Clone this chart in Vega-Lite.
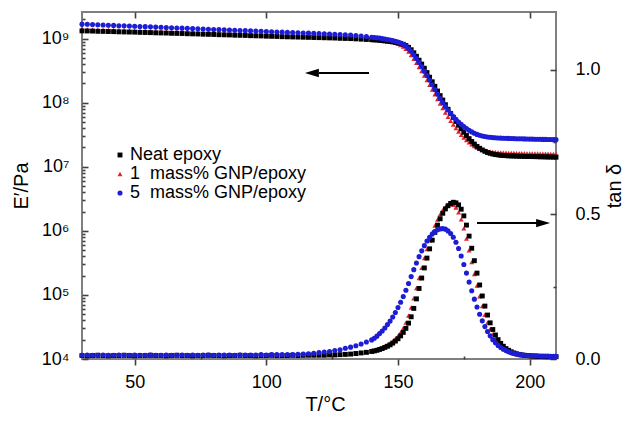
{
"$schema":"https://vega.github.io/schema/vega-lite/v6.json",
"width":474,"height":347,
"autosize":{"type":"none"},
"padding":{"left":82,"top":12,"right":68,"bottom":66},
"background":"white",
"config":{"font":"Liberation Sans","view":{"stroke":"#7f7f7f","strokeWidth":2},
"axis":{"grid":false,"domain":false,"ticks":true,"zindex":1,"labelColor":"#000","tickColor":"#404040","tickWidth":1.6,"tickOpacity":1,"labelFont":"Liberation Sans","titleFont":"Liberation Sans","titleFontWeight":"normal","labelFontSize":18,"titleFontSize":20,"titleColor":"#000","labelFlush":false,"labelOverlap":false,"labelBound":false}},
"data":{"values":[
{"T":30,"s":"g1","E":1.40e9,"t":0.013},{"T":32,"s":"g1","E":1.395e9,"t":0.012},{"T":34,"s":"g1","E":1.39e9,"t":0.013},{"T":36,"s":"g1","E":1.38e9,"t":0.012},{"T":38,"s":"g1","E":1.375e9,"t":0.013},{"T":40,"s":"g1","E":1.37e9,"t":0.013},{"T":42,"s":"g1","E":1.36e9,"t":0.012},{"T":44,"s":"g1","E":1.355e9,"t":0.013},{"T":46,"s":"g1","E":1.345e9,"t":0.012},{"T":48,"s":"g1","E":1.34e9,"t":0.013},{"T":50,"s":"g1","E":1.33e9,"t":0.013},{"T":52,"s":"g1","E":1.325e9,"t":0.012},{"T":54,"s":"g1","E":1.32e9,"t":0.013},{"T":56,"s":"g1","E":1.31e9,"t":0.012},{"T":58,"s":"g1","E":1.305e9,"t":0.013},{"T":60,"s":"g1","E":1.295e9,"t":0.013},{"T":62,"s":"g1","E":1.29e9,"t":0.012},{"T":64,"s":"g1","E":1.28e9,"t":0.013},{"T":66,"s":"g1","E":1.275e9,"t":0.012},{"T":68,"s":"g1","E":1.27e9,"t":0.013},{"T":70,"s":"g1","E":1.26e9,"t":0.013},{"T":72,"s":"g1","E":1.255e9,"t":0.012},{"T":74,"s":"g1","E":1.245e9,"t":0.013},{"T":76,"s":"g1","E":1.24e9,"t":0.013},{"T":78,"s":"g1","E":1.235e9,"t":0.012},{"T":80,"s":"g1","E":1.225e9,"t":0.013},{"T":82,"s":"g1","E":1.22e9,"t":0.013},{"T":84,"s":"g1","E":1.21e9,"t":0.012},{"T":86,"s":"g1","E":1.205e9,"t":0.013},{"T":88,"s":"g1","E":1.2e9,"t":0.013},{"T":90,"s":"g1","E":1.19e9,"t":0.012},{"T":92,"s":"g1","E":1.185e9,"t":0.013},{"T":94,"s":"g1","E":1.18e9,"t":0.013},{"T":96,"s":"g1","E":1.17e9,"t":0.012},{"T":98,"s":"g1","E":1.165e9,"t":0.013},{"T":100,"s":"g1","E":1.16e9,"t":0.013},{"T":102,"s":"g1","E":1.15e9,"t":0.013},{"T":104,"s":"g1","E":1.145e9,"t":0.012},{"T":106,"s":"g1","E":1.14e9,"t":0.013},{"T":108,"s":"g1","E":1.13e9,"t":0.013},{"T":110,"s":"g1","E":1.125e9,"t":0.013},{"T":112,"s":"g1","E":1.12e9,"t":0.013},{"T":114,"s":"g1","E":1.11e9,"t":0.013},{"T":116,"s":"g1","E":1.105e9,"t":0.014},{"T":118,"s":"g1","E":1.1e9,"t":0.014},{"T":120,"s":"g1","E":1.09e9,"t":0.014},{"T":122,"s":"g1","E":1.085e9,"t":0.014},{"T":124,"s":"g1","E":1.075e9,"t":0.015},{"T":126,"s":"g1","E":1.07e9,"t":0.016},{"T":128,"s":"g1","E":1.06e9,"t":0.016},{"T":130,"s":"g1","E":1.05e9,"t":0.017},{"T":132,"s":"g1","E":1.04e9,"t":0.018},{"T":134,"s":"g1","E":1.03e9,"t":0.02},{"T":136,"s":"g1","E":1.02e9,"t":0.022},{"T":138,"s":"g1","E":1.005e9,"t":0.025},
{"T":140,"s":"g1","E":9.9e8,"t":0.028},{"T":141,"s":"g1","E":9.8e8,"t":0.03},{"T":142,"s":"g1","E":9.7e8,"t":0.033},{"T":143,"s":"g1","E":9.6e8,"t":0.036},{"T":144,"s":"g1","E":9.5e8,"t":0.04},{"T":145,"s":"g1","E":9.35e8,"t":0.044},{"T":146,"s":"g1","E":9.2e8,"t":0.049},{"T":147,"s":"g1","E":9.05e8,"t":0.055},{"T":148,"s":"g1","E":8.85e8,"t":0.062},{"T":149,"s":"g1","E":8.6e8,"t":0.07},{"T":150,"s":"g1","E":8.3e8,"t":0.08},{"T":151,"s":"g1","E":7.95e8,"t":0.092},{"T":152,"s":"g1","E":7.5e8,"t":0.107},{"T":153,"s":"g1","E":6.9e8,"t":0.126},{"T":154,"s":"g1","E":6.25e8,"t":0.15},{"T":155,"s":"g1","E":5.55e8,"t":0.178},{"T":156,"s":"g1","E":4.85e8,"t":0.21},{"T":157,"s":"g1","E":4.2e8,"t":0.245},{"T":158,"s":"g1","E":3.6e8,"t":0.28},{"T":159,"s":"g1","E":3.1e8,"t":0.315},{"T":160,"s":"g1","E":2.65e8,"t":0.349},{"T":161,"s":"g1","E":2.25e8,"t":0.38},{"T":162,"s":"g1","E":1.9e8,"t":0.41},{"T":163,"s":"g1","E":1.6e8,"t":0.437},{"T":164,"s":"g1","E":1.35e8,"t":0.461},{"T":165,"s":"g1","E":1.14e8,"t":0.482},{"T":166,"s":"g1","E":9.7e7,"t":0.5},{"T":167,"s":"g1","E":8.2e7,"t":0.515},{"T":168,"s":"g1","E":7.0e7,"t":0.526},{"T":169,"s":"g1","E":6.0e7,"t":0.533},{"T":170,"s":"g1","E":5.2e7,"t":0.536},{"T":171,"s":"g1","E":4.55e7,"t":0.533},{"T":172,"s":"g1","E":4.0e7,"t":0.524},{"T":173,"s":"g1","E":3.55e7,"t":0.507},{"T":174,"s":"g1","E":3.15e7,"t":0.483},{"T":175,"s":"g1","E":2.85e7,"t":0.452},{"T":176,"s":"g1","E":2.6e7,"t":0.416},{"T":177,"s":"g1","E":2.4e7,"t":0.376},{"T":178,"s":"g1","E":2.24e7,"t":0.335},{"T":179,"s":"g1","E":2.1e7,"t":0.294},{"T":180,"s":"g1","E":1.99e7,"t":0.254},{"T":181,"s":"g1","E":1.91e7,"t":0.217},{"T":182,"s":"g1","E":1.85e7,"t":0.183},{"T":183,"s":"g1","E":1.8e7,"t":0.153},{"T":184,"s":"g1","E":1.76e7,"t":0.126},{"T":185,"s":"g1","E":1.73e7,"t":0.104},{"T":186,"s":"g1","E":1.71e7,"t":0.085},{"T":187,"s":"g1","E":1.69e7,"t":0.069},{"T":188,"s":"g1","E":1.68e7,"t":0.057},{"T":189,"s":"g1","E":1.67e7,"t":0.046},{"T":190,"s":"g1","E":1.66e7,"t":0.038},{"T":191,"s":"g1","E":1.655e7,"t":0.032},{"T":192,"s":"g1","E":1.65e7,"t":0.027},{"T":193,"s":"g1","E":1.645e7,"t":0.023},{"T":194,"s":"g1","E":1.64e7,"t":0.02},{"T":195,"s":"g1","E":1.635e7,"t":0.017},{"T":196,"s":"g1","E":1.63e7,"t":0.015},{"T":197,"s":"g1","E":1.63e7,"t":0.014},{"T":198,"s":"g1","E":1.625e7,"t":0.013},{"T":199,"s":"g1","E":1.62e7,"t":0.012},{"T":200,"s":"g1","E":1.62e7,"t":0.011},{"T":201,"s":"g1","E":1.615e7,"t":0.01},{"T":202,"s":"g1","E":1.61e7,"t":0.01},{"T":203,"s":"g1","E":1.61e7,"t":0.009},{"T":204,"s":"g1","E":1.605e7,"t":0.009},{"T":205,"s":"g1","E":1.6e7,"t":0.009},{"T":206,"s":"g1","E":1.6e7,"t":0.009},{"T":207,"s":"g1","E":1.595e7,"t":0.008},{"T":208,"s":"g1","E":1.59e7,"t":0.008},{"T":209,"s":"g1","E":1.59e7,"t":0.008},{"T":210,"s":"g1","E":1.585e7,"t":0.008},
{"T":30,"s":"n","E":1.32e9,"t":0.012},{"T":32,"s":"n","E":1.315e9,"t":0.011},{"T":34,"s":"n","E":1.31e9,"t":0.012},{"T":36,"s":"n","E":1.3e9,"t":0.013},{"T":38,"s":"n","E":1.295e9,"t":0.012},{"T":40,"s":"n","E":1.29e9,"t":0.011},{"T":42,"s":"n","E":1.285e9,"t":0.012},{"T":44,"s":"n","E":1.275e9,"t":0.012},{"T":46,"s":"n","E":1.27e9,"t":0.013},{"T":48,"s":"n","E":1.265e9,"t":0.012},{"T":50,"s":"n","E":1.26e9,"t":0.011},{"T":52,"s":"n","E":1.25e9,"t":0.012},{"T":54,"s":"n","E":1.245e9,"t":0.012},{"T":56,"s":"n","E":1.24e9,"t":0.013},{"T":58,"s":"n","E":1.23e9,"t":0.012},{"T":60,"s":"n","E":1.225e9,"t":0.012},{"T":62,"s":"n","E":1.22e9,"t":0.011},{"T":64,"s":"n","E":1.21e9,"t":0.012},{"T":66,"s":"n","E":1.205e9,"t":0.013},{"T":68,"s":"n","E":1.2e9,"t":0.012},{"T":70,"s":"n","E":1.19e9,"t":0.012},{"T":72,"s":"n","E":1.185e9,"t":0.011},{"T":74,"s":"n","E":1.18e9,"t":0.012},{"T":76,"s":"n","E":1.17e9,"t":0.012},{"T":78,"s":"n","E":1.165e9,"t":0.013},{"T":80,"s":"n","E":1.16e9,"t":0.012},{"T":82,"s":"n","E":1.15e9,"t":0.012},{"T":84,"s":"n","E":1.145e9,"t":0.011},{"T":86,"s":"n","E":1.14e9,"t":0.012},{"T":88,"s":"n","E":1.13e9,"t":0.012},{"T":90,"s":"n","E":1.125e9,"t":0.013},{"T":92,"s":"n","E":1.12e9,"t":0.012},{"T":94,"s":"n","E":1.11e9,"t":0.012},{"T":96,"s":"n","E":1.105e9,"t":0.011},{"T":98,"s":"n","E":1.1e9,"t":0.012},{"T":100,"s":"n","E":1.09e9,"t":0.012},{"T":102,"s":"n","E":1.085e9,"t":0.013},{"T":104,"s":"n","E":1.08e9,"t":0.012},{"T":106,"s":"n","E":1.07e9,"t":0.012},{"T":108,"s":"n","E":1.065e9,"t":0.012},{"T":110,"s":"n","E":1.06e9,"t":0.013},{"T":112,"s":"n","E":1.055e9,"t":0.012},{"T":114,"s":"n","E":1.05e9,"t":0.013},{"T":116,"s":"n","E":1.045e9,"t":0.013},{"T":118,"s":"n","E":1.04e9,"t":0.013},{"T":120,"s":"n","E":1.035e9,"t":0.013},{"T":122,"s":"n","E":1.03e9,"t":0.013},{"T":124,"s":"n","E":1.025e9,"t":0.014},{"T":126,"s":"n","E":1.02e9,"t":0.014},{"T":128,"s":"n","E":1.01e9,"t":0.015},{"T":130,"s":"n","E":1.005e9,"t":0.016},{"T":132,"s":"n","E":1.0e9,"t":0.017},{"T":134,"s":"n","E":9.9e8,"t":0.019},{"T":136,"s":"n","E":9.8e8,"t":0.021},{"T":138,"s":"n","E":9.7e8,"t":0.023},
{"T":140,"s":"n","E":9.6e8,"t":0.026},{"T":141,"s":"n","E":9.55e8,"t":0.028},{"T":142,"s":"n","E":9.5e8,"t":0.03},{"T":143,"s":"n","E":9.4e8,"t":0.033},{"T":144,"s":"n","E":9.3e8,"t":0.036},{"T":145,"s":"n","E":9.2e8,"t":0.04},{"T":146,"s":"n","E":9.1e8,"t":0.044},{"T":147,"s":"n","E":9.0e8,"t":0.049},{"T":148,"s":"n","E":8.9e8,"t":0.055},{"T":149,"s":"n","E":8.75e8,"t":0.062},{"T":150,"s":"n","E":8.6e8,"t":0.07},{"T":151,"s":"n","E":8.4e8,"t":0.08},{"T":152,"s":"n","E":8.15e8,"t":0.092},{"T":153,"s":"n","E":7.8e8,"t":0.106},{"T":154,"s":"n","E":7.3e8,"t":0.124},{"T":155,"s":"n","E":6.7e8,"t":0.146},{"T":156,"s":"n","E":6.0e8,"t":0.175},{"T":157,"s":"n","E":5.3e8,"t":0.208},{"T":158,"s":"n","E":4.6e8,"t":0.244},{"T":159,"s":"n","E":4.0e8,"t":0.28},{"T":160,"s":"n","E":3.45e8,"t":0.315},{"T":161,"s":"n","E":2.95e8,"t":0.349},{"T":162,"s":"n","E":2.5e8,"t":0.381},{"T":163,"s":"n","E":2.12e8,"t":0.411},{"T":164,"s":"n","E":1.8e8,"t":0.438},{"T":165,"s":"n","E":1.52e8,"t":0.463},{"T":166,"s":"n","E":1.29e8,"t":0.485},{"T":167,"s":"n","E":1.1e8,"t":0.504},{"T":168,"s":"n","E":9.3e7,"t":0.519},{"T":169,"s":"n","E":7.9e7,"t":0.53},{"T":170,"s":"n","E":6.8e7,"t":0.538},{"T":171,"s":"n","E":5.9e7,"t":0.542},{"T":172,"s":"n","E":5.1e7,"t":0.54},{"T":173,"s":"n","E":4.45e7,"t":0.533},{"T":174,"s":"n","E":3.9e7,"t":0.518},{"T":175,"s":"n","E":3.45e7,"t":0.495},{"T":176,"s":"n","E":3.07e7,"t":0.463},{"T":177,"s":"n","E":2.75e7,"t":0.425},{"T":178,"s":"n","E":2.48e7,"t":0.383},{"T":179,"s":"n","E":2.26e7,"t":0.34},{"T":180,"s":"n","E":2.08e7,"t":0.297},{"T":181,"s":"n","E":1.94e7,"t":0.256},{"T":182,"s":"n","E":1.83e7,"t":0.218},{"T":183,"s":"n","E":1.74e7,"t":0.183},{"T":184,"s":"n","E":1.67e7,"t":0.152},{"T":185,"s":"n","E":1.62e7,"t":0.125},{"T":186,"s":"n","E":1.58e7,"t":0.102},{"T":187,"s":"n","E":1.55e7,"t":0.083},{"T":188,"s":"n","E":1.53e7,"t":0.067},{"T":189,"s":"n","E":1.51e7,"t":0.054},{"T":190,"s":"n","E":1.5e7,"t":0.044},{"T":191,"s":"n","E":1.49e7,"t":0.036},{"T":192,"s":"n","E":1.48e7,"t":0.03},{"T":193,"s":"n","E":1.475e7,"t":0.025},{"T":194,"s":"n","E":1.47e7,"t":0.021},{"T":195,"s":"n","E":1.465e7,"t":0.018},{"T":196,"s":"n","E":1.46e7,"t":0.016},{"T":197,"s":"n","E":1.455e7,"t":0.014},{"T":198,"s":"n","E":1.45e7,"t":0.013},{"T":199,"s":"n","E":1.45e7,"t":0.012},{"T":200,"s":"n","E":1.445e7,"t":0.011},{"T":201,"s":"n","E":1.44e7,"t":0.01},{"T":202,"s":"n","E":1.44e7,"t":0.01},{"T":203,"s":"n","E":1.435e7,"t":0.009},{"T":204,"s":"n","E":1.43e7,"t":0.009},{"T":205,"s":"n","E":1.43e7,"t":0.009},{"T":206,"s":"n","E":1.425e7,"t":0.008},{"T":207,"s":"n","E":1.42e7,"t":0.008},{"T":208,"s":"n","E":1.42e7,"t":0.008},{"T":209,"s":"n","E":1.415e7,"t":0.008},{"T":210,"s":"n","E":1.41e7,"t":0.008},
{"T":30,"s":"g5","E":1.68e9,"t":0.013},{"T":32,"s":"g5","E":1.67e9,"t":0.014},{"T":34,"s":"g5","E":1.655e9,"t":0.013},{"T":36,"s":"g5","E":1.64e9,"t":0.013},{"T":38,"s":"g5","E":1.63e9,"t":0.014},{"T":40,"s":"g5","E":1.615e9,"t":0.013},{"T":42,"s":"g5","E":1.605e9,"t":0.013},{"T":44,"s":"g5","E":1.59e9,"t":0.014},{"T":46,"s":"g5","E":1.58e9,"t":0.013},{"T":48,"s":"g5","E":1.57e9,"t":0.013},{"T":50,"s":"g5","E":1.555e9,"t":0.014},{"T":52,"s":"g5","E":1.545e9,"t":0.013},{"T":54,"s":"g5","E":1.535e9,"t":0.013},{"T":56,"s":"g5","E":1.525e9,"t":0.014},{"T":58,"s":"g5","E":1.51e9,"t":0.013},{"T":60,"s":"g5","E":1.5e9,"t":0.013},{"T":62,"s":"g5","E":1.49e9,"t":0.014},{"T":64,"s":"g5","E":1.48e9,"t":0.013},{"T":66,"s":"g5","E":1.465e9,"t":0.013},{"T":68,"s":"g5","E":1.455e9,"t":0.014},{"T":70,"s":"g5","E":1.445e9,"t":0.013},{"T":72,"s":"g5","E":1.435e9,"t":0.014},{"T":74,"s":"g5","E":1.425e9,"t":0.013},{"T":76,"s":"g5","E":1.415e9,"t":0.014},{"T":78,"s":"g5","E":1.4e9,"t":0.014},{"T":80,"s":"g5","E":1.39e9,"t":0.013},{"T":82,"s":"g5","E":1.38e9,"t":0.014},{"T":84,"s":"g5","E":1.37e9,"t":0.014},{"T":86,"s":"g5","E":1.36e9,"t":0.014},{"T":88,"s":"g5","E":1.35e9,"t":0.013},{"T":90,"s":"g5","E":1.34e9,"t":0.014},{"T":92,"s":"g5","E":1.33e9,"t":0.014},{"T":94,"s":"g5","E":1.32e9,"t":0.014},{"T":96,"s":"g5","E":1.31e9,"t":0.014},{"T":98,"s":"g5","E":1.3e9,"t":0.015},{"T":100,"s":"g5","E":1.29e9,"t":0.014},{"T":102,"s":"g5","E":1.28e9,"t":0.015},{"T":104,"s":"g5","E":1.27e9,"t":0.015},{"T":106,"s":"g5","E":1.26e9,"t":0.015},{"T":108,"s":"g5","E":1.25e9,"t":0.015},{"T":110,"s":"g5","E":1.245e9,"t":0.015},{"T":112,"s":"g5","E":1.235e9,"t":0.016},{"T":114,"s":"g5","E":1.225e9,"t":0.017},{"T":116,"s":"g5","E":1.215e9,"t":0.018},{"T":118,"s":"g5","E":1.205e9,"t":0.02},{"T":120,"s":"g5","E":1.195e9,"t":0.022},{"T":122,"s":"g5","E":1.19e9,"t":0.024},{"T":124,"s":"g5","E":1.18e9,"t":0.026},{"T":126,"s":"g5","E":1.17e9,"t":0.029},{"T":128,"s":"g5","E":1.16e9,"t":0.032},{"T":130,"s":"g5","E":1.15e9,"t":0.037},{"T":132,"s":"g5","E":1.135e9,"t":0.041},{"T":134,"s":"g5","E":1.12e9,"t":0.046},{"T":136,"s":"g5","E":1.1e9,"t":0.052},{"T":138,"s":"g5","E":1.08e9,"t":0.059},
{"T":140,"s":"g5","E":1.05e9,"t":0.066},{"T":141,"s":"g5","E":1.04e9,"t":0.072},{"T":142,"s":"g5","E":1.03e9,"t":0.079},{"T":143,"s":"g5","E":1.02e9,"t":0.088},{"T":144,"s":"g5","E":1.0e9,"t":0.097},{"T":145,"s":"g5","E":9.85e8,"t":0.107},{"T":146,"s":"g5","E":9.7e8,"t":0.119},{"T":147,"s":"g5","E":9.5e8,"t":0.131},{"T":148,"s":"g5","E":9.3e8,"t":0.145},{"T":149,"s":"g5","E":9.1e8,"t":0.161},{"T":150,"s":"g5","E":8.85e8,"t":0.178},{"T":151,"s":"g5","E":8.55e8,"t":0.196},{"T":152,"s":"g5","E":8.15e8,"t":0.216},{"T":153,"s":"g5","E":7.65e8,"t":0.238},{"T":154,"s":"g5","E":7.0e8,"t":0.261},{"T":155,"s":"g5","E":6.35e8,"t":0.285},{"T":156,"s":"g5","E":5.6e8,"t":0.309},{"T":157,"s":"g5","E":4.9e8,"t":0.332},{"T":158,"s":"g5","E":4.25e8,"t":0.354},{"T":159,"s":"g5","E":3.65e8,"t":0.374},{"T":160,"s":"g5","E":3.1e8,"t":0.392},{"T":161,"s":"g5","E":2.65e8,"t":0.408},{"T":162,"s":"g5","E":2.25e8,"t":0.421},{"T":163,"s":"g5","E":1.9e8,"t":0.432},{"T":164,"s":"g5","E":1.6e8,"t":0.441},{"T":165,"s":"g5","E":1.36e8,"t":0.447},{"T":166,"s":"g5","E":1.16e8,"t":0.45},{"T":167,"s":"g5","E":1.0e8,"t":0.451},{"T":168,"s":"g5","E":8.7e7,"t":0.449},{"T":169,"s":"g5","E":7.7e7,"t":0.443},{"T":170,"s":"g5","E":6.85e7,"t":0.434},{"T":171,"s":"g5","E":6.1e7,"t":0.421},{"T":172,"s":"g5","E":5.5e7,"t":0.404},{"T":173,"s":"g5","E":5.0e7,"t":0.382},{"T":174,"s":"g5","E":4.6e7,"t":0.356},{"T":175,"s":"g5","E":4.25e7,"t":0.327},{"T":176,"s":"g5","E":3.95e7,"t":0.297},{"T":177,"s":"g5","E":3.7e7,"t":0.266},{"T":178,"s":"g5","E":3.5e7,"t":0.236},{"T":179,"s":"g5","E":3.33e7,"t":0.207},{"T":180,"s":"g5","E":3.2e7,"t":0.18},{"T":181,"s":"g5","E":3.1e7,"t":0.155},{"T":182,"s":"g5","E":3.02e7,"t":0.132},{"T":183,"s":"g5","E":2.96e7,"t":0.112},{"T":184,"s":"g5","E":2.92e7,"t":0.095},{"T":185,"s":"g5","E":2.88e7,"t":0.08},{"T":186,"s":"g5","E":2.85e7,"t":0.067},{"T":187,"s":"g5","E":2.83e7,"t":0.056},{"T":188,"s":"g5","E":2.81e7,"t":0.047},{"T":189,"s":"g5","E":2.8e7,"t":0.04},{"T":190,"s":"g5","E":2.79e7,"t":0.034},{"T":191,"s":"g5","E":2.78e7,"t":0.029},{"T":192,"s":"g5","E":2.77e7,"t":0.025},{"T":193,"s":"g5","E":2.76e7,"t":0.022},{"T":194,"s":"g5","E":2.75e7,"t":0.019},{"T":195,"s":"g5","E":2.74e7,"t":0.017},{"T":196,"s":"g5","E":2.73e7,"t":0.015},{"T":197,"s":"g5","E":2.73e7,"t":0.014},{"T":198,"s":"g5","E":2.72e7,"t":0.013},{"T":199,"s":"g5","E":2.71e7,"t":0.012},{"T":200,"s":"g5","E":2.7e7,"t":0.012},{"T":201,"s":"g5","E":2.7e7,"t":0.011},{"T":202,"s":"g5","E":2.69e7,"t":0.011},{"T":203,"s":"g5","E":2.68e7,"t":0.011},{"T":204,"s":"g5","E":2.68e7,"t":0.01},{"T":205,"s":"g5","E":2.67e7,"t":0.01},{"T":206,"s":"g5","E":2.67e7,"t":0.01},{"T":207,"s":"g5","E":2.66e7,"t":0.01},{"T":208,"s":"g5","E":2.66e7,"t":0.009},{"T":209,"s":"g5","E":2.65e7,"t":0.009},{"T":210,"s":"g5","E":2.65e7,"t":0.009}
]},
"resolve":{"scale":{"y":"independent"},"axis":{"x":"independent","y":"independent"}},
"layer":[
{"mark":{"type":"point","filled":true,"opacity":1,"strokeWidth":0},
"encoding":{
"x":{"field":"T","type":"quantitative","scale":{"domain":[30,210],"nice":false,"zero":false},"axis":{"orient":"bottom","values":[50,100,150,200],"ticks":true,"tickSize":6,"labelPadding":8,"title":"T/°C","titlePadding":3,"titleX":243}},
"y":{"field":"E","type":"quantitative","scale":{"type":"log","domain":[1e4,2.6e9],"nice":false},"axis":{"orient":"left","values":[1e4,1e5,1e6,1e7,1e8,1e9],"labelExpr":"'10' + ['⁰','¹','²','³','⁴','⁵','⁶','⁷','⁸','⁹'][round(log(datum.value)/LN10)]","ticks":true,"offset":-6,"tickSize":6,"labelPadding":13,"title":"E′/Pa","titlePadding":10}},
"color":{"field":"s","type":"nominal","scale":{"domain":["n","g1","g5"],"range":["#000000","#e2232b","#1d1dd6"]},"legend":{"orient":"none","legendX":29,"legendY":134,"title":null,"labelFontSize":18,"labelFont":"Liberation Sans","labelColor":"#000","symbolSize":30,"rowPadding":1,"labelOffset":1,"padding":0,"labelLimit":400,"labelExpr":"datum.value == 'n' ? 'Neat epoxy' : datum.value == 'g1' ? '1\u00a0 mass% GNP/epoxy' : '5\u00a0 mass% GNP/epoxy'"}},
"shape":{"field":"s","type":"nominal","scale":{"domain":["n","g1","g5"],"range":["square","triangle-up","circle"]},"legend":{"orient":"none","legendX":29,"legendY":134,"title":null,"labelFontSize":18,"labelFont":"Liberation Sans","labelColor":"#000","symbolSize":30,"rowPadding":1,"labelOffset":1,"padding":0,"labelLimit":400,"labelExpr":"datum.value == 'n' ? 'Neat epoxy' : datum.value == 'g1' ? '1\u00a0 mass% GNP/epoxy' : '5\u00a0 mass% GNP/epoxy'"}},
"size":{"field":"s","type":"nominal","scale":{"domain":["n","g1","g5"],"range":[24,26,18]},"legend":null}
}},
{"mark":{"type":"point","filled":true,"opacity":1,"strokeWidth":0},
"encoding":{
"x":{"field":"T","type":"quantitative","scale":{"domain":[30,210],"nice":false,"zero":false},"axis":{"orient":"top","values":[50,100,150,200],"labels":false,"ticks":true,"offset":-6,"tickSize":6,"title":null}},
"y":{"field":"t","type":"quantitative","scale":{"domain":[0,1.2],"nice":false,"zero":false},"axis":{"orient":"right","values":[0,0.5,1],"format":".1f","ticks":true,"offset":-6,"tickSize":6,"labelPadding":19,"title":"tan δ","titleAngle":270,"titlePadding":24}},
"color":{"field":"s","type":"nominal","scale":{"domain":["n","g1","g5"],"range":["#000000","#e2232b","#1d1dd6"]},"legend":null},
"shape":{"field":"s","type":"nominal","scale":{"domain":["n","g1","g5"],"range":["square","triangle-up","circle"]},"legend":null},
"size":{"field":"s","type":"nominal","scale":{"domain":["n","g1","g5"],"range":[24,26,18]},"legend":null}
}},
{"mark":{"type":"point","opacity":0},
"encoding":{
"x":{"field":"T","type":"quantitative","scale":{"domain":[30,210],"nice":false,"zero":false},"axis":{"orient":"bottom","values":[75,125,175],"labels":false,"ticks":true,"offset":-3,"tickSize":3,"title":null}},
"y":{"field":"E","type":"quantitative","scale":{"type":"log","domain":[1e4,2.6e9],"nice":false},"axis":{"orient":"left","values":[2e4,3e4,4e4,5e4,6e4,7e4,8e4,9e4,2e5,3e5,4e5,5e5,6e5,7e5,8e5,9e5,2e6,3e6,4e6,5e6,6e6,7e6,8e6,9e6,2e7,3e7,4e7,5e7,6e7,7e7,8e7,9e7,2e8,3e8,4e8,5e8,6e8,7e8,8e8,9e8,2e9],"labels":false,"ticks":true,"offset":-3,"tickSize":3,"title":null}}
}},
{"mark":{"type":"point","opacity":0},
"encoding":{
"x":{"field":"T","type":"quantitative","scale":{"domain":[30,210],"nice":false,"zero":false},"axis":null},
"y":{"field":"t","type":"quantitative","scale":{"domain":[0,1.2],"nice":false,"zero":false},"axis":{"orient":"right","values":[0.25,0.75],"labels":false,"ticks":true,"offset":-3,"tickSize":3,"title":null}}
}},
{"data":{"values":[{"a":120,"b":139,"v":2.9e8}]},
"mark":{"type":"rule","color":"#000","strokeWidth":2},
"encoding":{
"x":{"field":"a","type":"quantitative","scale":{"domain":[30,210],"nice":false,"zero":false},"axis":null},
"x2":{"field":"b"},
"y":{"field":"v","type":"quantitative","scale":{"type":"log","domain":[1e4,2.6e9],"nice":false},"axis":null}
}},
{"data":{"values":[{"a":117.3,"v":2.9e8}]},
"mark":{"type":"point","shape":"M-1,0L1,-0.6L1,0.6Z","filled":true,"color":"#000","size":196,"opacity":1},
"encoding":{
"x":{"field":"a","type":"quantitative","scale":{"domain":[30,210],"nice":false,"zero":false},"axis":null},
"y":{"field":"v","type":"quantitative","scale":{"type":"log","domain":[1e4,2.6e9],"nice":false},"axis":null}
}},
{"data":{"values":[{"a":180,"b":203,"v":0.47}]},
"mark":{"type":"rule","color":"#000","strokeWidth":2},
"encoding":{
"x":{"field":"a","type":"quantitative","scale":{"domain":[30,210],"nice":false,"zero":false},"axis":null},
"x2":{"field":"b"},
"y":{"field":"v","type":"quantitative","scale":{"domain":[0,1.2],"nice":false,"zero":false},"axis":null}
}},
{"data":{"values":[{"a":205.1,"v":0.47}]},
"mark":{"type":"point","shape":"M1,0L-1,-0.6L-1,0.6Z","filled":true,"color":"#000","size":196,"opacity":1},
"encoding":{
"x":{"field":"a","type":"quantitative","scale":{"domain":[30,210],"nice":false,"zero":false},"axis":null},
"y":{"field":"v","type":"quantitative","scale":{"domain":[0,1.2],"nice":false,"zero":false},"axis":null}
}}
]
}
